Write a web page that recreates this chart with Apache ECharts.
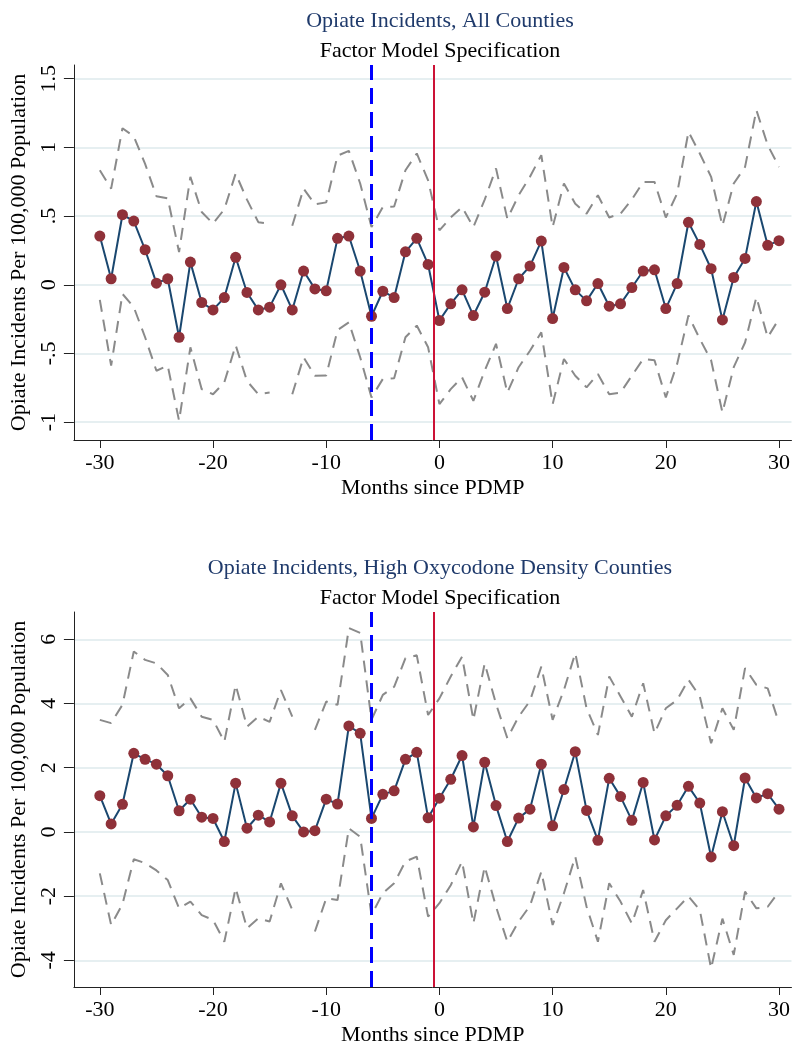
<!DOCTYPE html>
<html>
<head>
<meta charset="utf-8">
<script src="https://cdn.jsdelivr.net/npm/echarts@6/dist/echarts.min.js"></script>
<style>
  html, body { margin: 0; padding: 0; background: #fff; }
  #chart { width: 793px; height: 1049px; }
</style>
</head>
<body>
<div id="chart"></div>
<script>
// Months relative to PDMP start
const months = [-30,-29,-28,-27,-26,-25,-24,-23,-22,-21,-20,-19,-18,-17,-16,-15,-14,-13,-12,-11,-10,
  -9,-8,-7,-6,-5,-4,-3,-2,-1,0,1,2,3,4,5,6,7,8,9,10,11,12,13,14,15,16,17,18,19,20,
  21,22,23,24,25,26,27,28,29,30];

// All counties: point estimates and confidence bounds
const allEst = [0.355,0.044,0.51,0.464,0.255,0.012,0.044,-0.382,0.165,-0.129,-0.183,-0.093,0.200,-0.056,-0.183,-0.163,0.000,-0.183,0.100,-0.030,-0.044,
  0.338,0.355,0.100,-0.229,-0.047,-0.093,0.240,0.338,0.148,-0.260,-0.139,-0.037,-0.224,-0.054,0.209,-0.173,0.044,0.136,0.318,-0.246,
  0.126,-0.037,-0.117,0.009,-0.156,-0.139,-0.020,0.100,0.109,-0.173,0.009,0.455,0.294,0.117,-0.256,0.053,0.192,0.606,0.287,0.321];
const allHi = [0.834,0.70,1.14,1.08,0.88,0.645,0.63,0.238,0.786,0.53,0.445,0.55,0.81,0.62,0.456,0.445,null,0.43,0.70,0.586,0.60,
  0.94,0.975,0.737,0.42,0.566,0.57,0.834,0.956,0.76,0.396,0.49,0.566,0.42,0.62,0.847,0.48,0.652,0.786,0.944,0.42,
  0.737,0.59,0.518,0.652,0.49,0.518,0.62,0.749,0.749,0.49,0.664,1.114,0.956,0.786,0.43,0.737,0.858,1.272,1.017,0.858];
const allLo = [-0.11,-0.589,-0.066,-0.163,-0.382,-0.626,-0.589,-0.99,-0.455,-0.76,-0.797,-0.71,-0.44,-0.70,-0.797,-0.785,null,-0.797,-0.528,-0.662,-0.66,
  -0.33,-0.273,-0.528,-0.82,-0.686,-0.68,-0.382,-0.297,-0.455,-0.869,-0.76,-0.674,-0.845,-0.626,-0.43,-0.785,-0.6,-0.48,-0.346,-0.869,
  -0.54,-0.662,-0.747,-0.65,-0.797,-0.785,-0.662,-0.54,-0.55,-0.82,-0.576,-0.224,-0.394,-0.55,-0.93,-0.6,-0.42,-0.09,-0.382,-0.248];

// High oxycodone density counties: point estimates and confidence bounds
const oxyEst = [1.13,0.25,0.86,2.45,2.26,2.11,1.75,0.66,1.02,0.46,0.42,-0.30,1.52,0.115,0.52,0.31,1.52,0.50,0.00,0.04,1.02,
  0.87,3.30,3.07,0.42,1.17,1.28,2.26,2.48,0.44,1.05,1.64,2.38,0.156,2.17,0.82,-0.30,0.43,0.71,2.11,0.19,
  1.32,2.50,0.67,-0.26,1.67,1.10,0.36,1.54,-0.25,0.50,0.83,1.42,0.90,-0.78,0.63,-0.43,1.68,1.06,1.19,0.71];
const oxyHi = [3.49,3.39,3.96,5.62,5.36,5.25,4.89,3.85,4.16,3.59,3.49,2.81,4.58,3.28,3.59,3.43,4.42,3.59,null,3.18,4.06,
  3.96,6.35,6.20,3.49,4.27,4.52,5.41,5.50,3.64,4.16,4.84,5.46,3.49,5.25,3.99,2.92,3.59,4.08,5.15,3.49,
  4.42,5.57,3.85,3.02,4.84,4.22,3.59,4.63,3.07,3.85,4.11,4.74,4.22,2.76,3.85,3.18,5.10,4.58,4.47,3.39];
const oxyLo = [-1.29,-2.90,-2.25,-0.85,-0.97,-1.20,-1.50,-2.38,-2.17,-2.59,-2.74,-3.42,-1.75,-3.00,-2.69,-2.79,-1.60,-2.43,null,-3.10,-2.07,
  -2.12,0.11,-0.15,-2.59,-1.91,-1.60,-0.92,-0.77,-2.64,-2.22,-1.66,-0.92,-2.85,-1.08,-2.33,-3.42,-2.79,-2.30,-1.24,-2.90,
  -1.91,-0.77,-2.33,-3.42,-1.60,-2.17,-2.85,-1.81,-3.42,-2.75,-2.38,-2.01,-2.43,-4.25,-2.70,-3.83,-1.86,-2.38,-2.33,-1.86];

// Axis ticks and reference months
const xTicks = [-30,-20,-10,0,10,20,30];
const allTicks = [-1,-0.5,0,0.5,1,1.5];
const oxyTicks = [-4,-2,0,2,4,6];
const eventMonth = -6;      // announcement (blue dashed)
const startMonth = -0.5;    // PDMP start (red)

const panels = [
  { title: 'Opiate Incidents, All Counties', est: allEst, hi: allHi, lo: allLo, ticks: allTicks,
    yMin: -1.13, yMax: 1.60, top: 65 },
  { title: 'Opiate Incidents, High Oxycodone Density Counties', est: oxyEst, hi: oxyHi, lo: oxyLo, ticks: oxyTicks,
    yMin: -4.83, yMax: 6.85, top: 612 }
];

const FONT = '"Liberation Serif", "Times New Roman", Times, serif';
const PLOT_H = 375;
const pairs = vals => months.map((m, i) => [m, vals[i]]);
const fmtY = v => String(v).replace('0.', '.');

const titles = [], grids = [], xAxes = [], yAxes = [], series = [];
panels.forEach((p, k) => {
  titles.push({
    text: p.title, left: 435, top: p.top - 60, textAlign: 'center',
    textStyle: { fontFamily: FONT, fontSize: 22, fontWeight: 'normal', color: '#1f3a6b' }
  });
  titles.push({
    text: 'Factor Model Specification', left: 435, top: p.top - 30, textAlign: 'center',
    textStyle: { fontFamily: FONT, fontSize: 22, fontWeight: 'normal', color: '#000' }
  });
  grids.push({ left: 73, right: 0, top: p.top, height: PLOT_H });
  xAxes.push({
    type: 'value', gridIndex: k, min: -32.29, max: 31.1,
    name: 'Months since PDMP', nameLocation: 'middle', nameGap: 37,
    nameTextStyle: { fontFamily: FONT, fontSize: 22, color: '#000' },
    axisLine: { show: true, onZero: false, lineStyle: { color: '#222', width: 1 } },
    axisTick: { show: true, length: 8, customValues: xTicks, lineStyle: { color: '#222' } },
    axisLabel: { customValues: xTicks, margin: 12, fontFamily: FONT, fontSize: 22, color: '#000' },
    splitLine: { show: false }
  });
  yAxes.push({
    type: 'value', gridIndex: k, min: p.yMin, max: p.yMax,
    name: 'Opiate Incidents Per 100,000 Population', nameLocation: 'middle', nameGap: 40,
    nameTextStyle: { fontFamily: FONT, fontSize: 22, color: '#000' },
    axisLine: { show: true, onZero: false, lineStyle: { color: '#222', width: 1 } },
    axisTick: { show: true, length: 10, customValues: p.ticks, lineStyle: { color: '#222' } },
    axisLabel: { customValues: p.ticks, rotate: 90, margin: 14, fontFamily: FONT, fontSize: 22,
      color: '#000', formatter: fmtY },
    splitLine: { show: true, lineStyle: { color: '#e6eff1', width: 2 } }
  });
  const band = (vals, withLines) => ({
    type: 'line', xAxisIndex: k, yAxisIndex: k, data: pairs(vals),
    showSymbol: false, symbol: 'none', connectNulls: false, silent: true,
    lineStyle: { color: '#8a8a8a', width: 2, type: [12, 8] },
    markLine: withLines ? {
      symbol: 'none', silent: true, label: { show: false },
      data: [
        { xAxis: eventMonth, lineStyle: { color: '#0000ff', width: 3, type: [16, 8] } },
        { xAxis: startMonth, lineStyle: { color: '#cc1236', width: 2, type: 'solid' } }
      ]
    } : undefined
  });
  series.push(band(p.hi, true));
  series.push(band(p.lo, false));
  series.push({
    type: 'line', xAxisIndex: k, yAxisIndex: k, data: pairs(p.est),
    symbol: 'circle', symbolSize: 11, showSymbol: true, silent: true,
    lineStyle: { color: '#1a476f', width: 2 },
    itemStyle: { color: '#8f3139', borderWidth: 0 }
  });
});

const chart = echarts.init(document.getElementById('chart'), null, { renderer: 'canvas' });
chart.setOption({
  animation: false,
  backgroundColor: '#fff',
  textStyle: { fontFamily: FONT },
  title: titles, grid: grids, xAxis: xAxes, yAxis: yAxes, series: series
});
</script>
</body>
</html>
